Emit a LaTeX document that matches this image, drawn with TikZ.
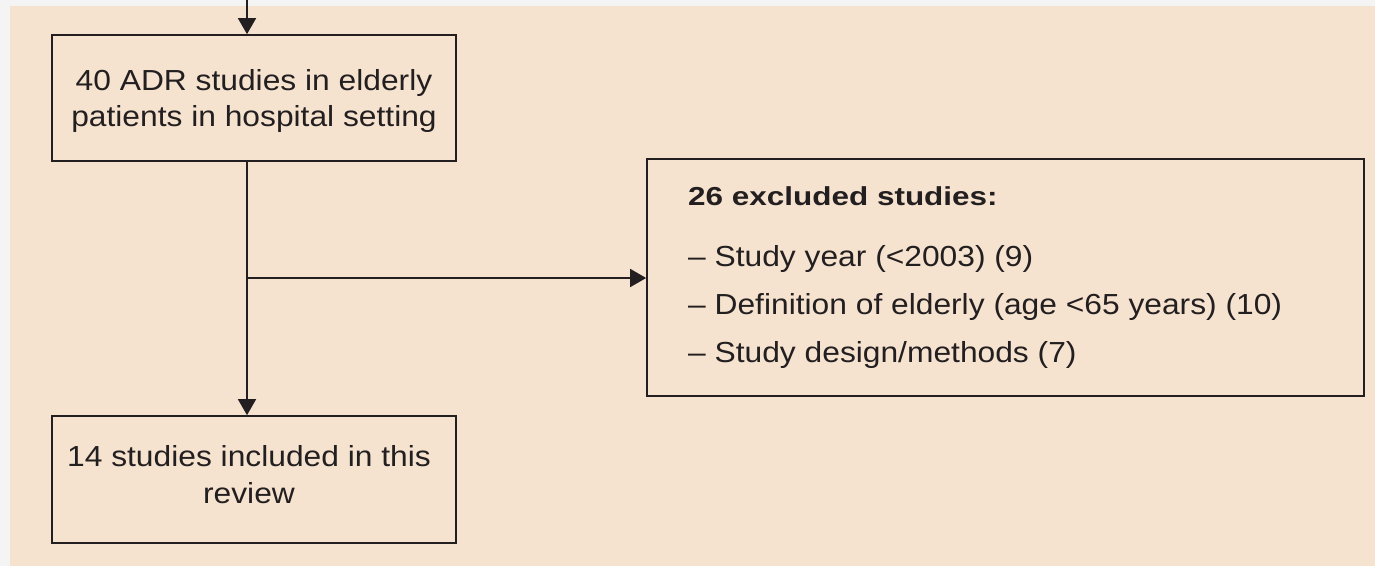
\documentclass[tikz,border=0pt]{standalone}
\usepackage{fontspec}
\setmainfont{Liberation Sans}
\newfontfamily\widefont[FakeStretch=1.095]{Liberation Sans}
\newfontfamily\widebold[FakeStretch=1.21]{Liberation Sans Bold}
\usetikzlibrary{arrows.meta}
\definecolor{bgbeige}{HTML}{F5E3CF}
\definecolor{bgedge}{HTML}{F4F4F4}
\definecolor{ink}{HTML}{231F20}
\tikzset{
  x=1pt, y=-1pt,
  boxnode/.style={draw=ink, line width=1.7pt, minimum width=#1, inner sep=0pt},
  arr/.style={draw=ink, line width=1.7pt, -{Triangle[length=16pt,width=18pt]}},
  ln/.style={draw=ink, line width=1.7pt},
  txt/.style={text=ink, font=\widefont\fontsize{29}{36}\selectfont, inner sep=0pt},
}
\begin{document}
\begin{tikzpicture}
\useasboundingbox (0,0) rectangle (1375,566);
\fill[bgedge] (0,0) rectangle (1375,566);
\fill[bgbeige] (10,6) rectangle (1375,566);
% boxes
\node[boxnode=404pt, minimum height=126pt] (top) at (254,98) {};
\node[boxnode=404pt, minimum height=127pt] (bot) at (254,479.5) {};
\node[boxnode=717pt, minimum height=237pt] (excl) at (1005.5,277.5) {};
% texts
\node[txt, anchor=base] (t1) at (254,90) {40 ADR studies in elderly};
\node[txt, anchor=base] (t2) at (254,126) {patients in hospital setting};
\node[txt, anchor=base] (b1) at (249,466) {14 studies included in this};
\node[txt, anchor=base] (b2) at (249,503) {review};
\node[txt, anchor=base west, font=\widebold\fontsize{26}{32}\selectfont] (e0) at (688,205) {26 excluded studies:};
\node[txt, anchor=base west] (e1) at (688,266) {– Study year (<2003) (9)};
\node[txt, anchor=base west] (e2) at (688,314) {– Definition of elderly (age <65 years) (10)};
\node[txt, anchor=base west] (e3) at (688,362) {– Study design/methods (7)};
% connectors
\coordinate (src) at (247,0);
\coordinate (j) at (247,278);
\draw[arr] (src) -- (src |- top.north);
\draw[ln] (src |- top.south) -- (j);
\draw[arr] (j) -- (j |- bot.north);
\draw[arr] (j) -- (j -| excl.west);
\end{tikzpicture}
\end{document}
